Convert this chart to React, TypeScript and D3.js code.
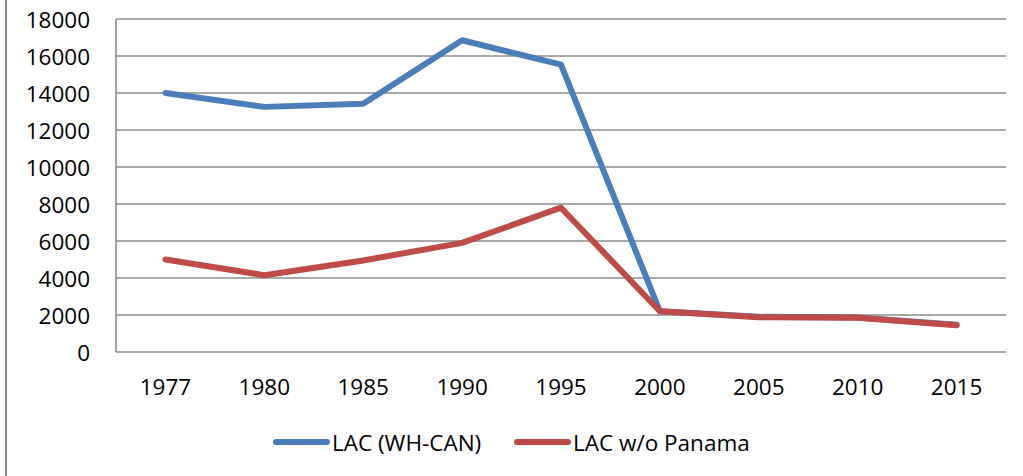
import React from "react";
import * as d3 from "d3";

const years = ["1977", "1980", "1985", "1990", "1995", "2000", "2005", "2010", "2015"];
const lacWhCan = [14000, 13250, 13420, 16850, 15530, 2200, 1900, 1870, 1470];
const lacNoPanama = [5000, 4150, 4950, 5900, 7800, 2200, 1880, 1850, 1450];
const yTicks = [0, 2000, 4000, 6000, 8000, 10000, 12000, 14000, 16000, 18000];
const seriesNames = ["LAC (WH-CAN)", "LAC w/o Panama"];
const seriesColors = ["#4A7EBB", "#BE4B48"];

const W = 1023;
const H = 476;
const plot = { left: 116, right: 1006, top: 19, bottom: 352 };
const FONT = "'Open Sans', sans-serif";
const FS = 22.5;

export default function App() {
  const x = d3.scalePoint<string>().domain(years).range([plot.left, plot.right]).padding(0.5);
  const y = d3.scaleLinear().domain([0, 18000]).range([plot.bottom, plot.top]);
  const line = d3
    .line<number>()
    .x((_, i) => x(years[i]) as number)
    .y((d) => y(d));
  const allSeries = [lacWhCan, lacNoPanama];

  return (
    <svg
      width={W}
      height={H}
      style={{ position: "absolute", left: 0, top: 0, background: "#fff" }}
      fontFamily={FONT}
    >
      <rect x={0} y={0} width={W} height={H} fill="#fff" />
      <line x1={6} x2={6} y1={0} y2={H} stroke="#8A8A8A" strokeWidth={2} />
      {yTicks.map((t) => (
        <g key={t}>
          <line x1={plot.left} x2={plot.right} y1={y(t)} y2={y(t)} stroke="#8C8C8C" strokeWidth={1.6} />
          <text x={90} y={y(t)} textAnchor="end" dominantBaseline="central" fontSize={FS} fill="#000">
            {t}
          </text>
        </g>
      ))}
      <line x1={plot.left} x2={plot.left} y1={plot.top} y2={plot.bottom} stroke="#8C8C8C" strokeWidth={1.6} />
      {years.map((yr) => (
        <text key={yr} x={x(yr)} y={395} textAnchor="middle" fontSize={FS} fill="#000">
          {yr}
        </text>
      ))}
      {allSeries.map((s, i) => (
        <path
          key={i}
          d={line(s) || ""}
          fill="none"
          stroke={seriesColors[i]}
          strokeWidth={6}
          strokeLinejoin="round"
          strokeLinecap="round"
        />
      ))}
      {seriesNames.map((n, i) => {
        const x0 = i === 0 ? 276 : 517;
        return (
          <g key={n}>
            <line x1={x0} x2={x0 + 51} y1={442} y2={442} stroke={seriesColors[i]} strokeWidth={6} strokeLinecap="round" />
            <text x={x0 + 56} y={442} dominantBaseline="central" fontSize={FS} fill="#000">
              {n}
            </text>
          </g>
        );
      })}
    </svg>
  );
}
